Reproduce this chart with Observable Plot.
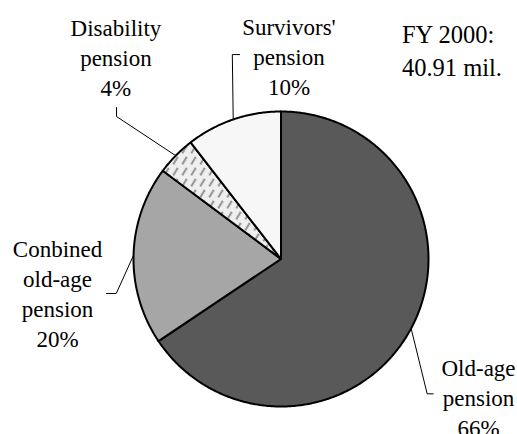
<!DOCTYPE html>
<html><head><meta charset="utf-8">
<script src="https://cdn.jsdelivr.net/npm/d3@7"></script>
<script src="https://cdn.jsdelivr.net/npm/@observablehq/plot@0.6"></script>
<style>
body{margin:0;background:#fff}
#chart{width:517px;height:434px}
</style>
</head><body><div id="chart"></div>
<script>
// ---- data ----
const categories = ["Old-age pension", "Conbined old-age pension", "Disability pension", "Survivors' pension"];
const labelTexts = ["Old-age\npension", "Conbined\nold-age\npension", "Disability\npension", "Survivors'\npension"];
const shares = [65.6, 19.6, 4.3, 10.5];
const pctLabels = ["66%", "20%", "4%", "10%"];
const totalLines = ["FY 2000:", "40.91 mil."];

// ---- styles / layout ----
const fills = ["#595959", "#a6a6a6", "url(#disPattern)", "#f7f7f7"];
// label block centres (pie-radius units)
const labelPos = [[1.339, -0.932], [-1.515, -0.226], [-1.119, 1.374], [0.054, 1.379]];
// leader: label end, elbow (pie-radius units); third point is slice mid-angle on the rim
const leaderEnds = [[1.032, -0.914], [-1.183, -0.234], [-1.115, 1.027], [-0.281, 1.386]];
const leaderElbows = [[0.991, -0.914], [-1.117, -0.234], [-1.115, 0.966], [-0.33, 1.386]];

const arcs = d3.pie().sort(null).value(d => d)(shares);
const slicePts = arcs.map((a, i) => {
  const pts = [{x: 0, y: 0, i}];
  const n = Math.max(2, Math.ceil((a.endAngle - a.startAngle) / (Math.PI / 360)));
  for (let k = 0; k <= n; k++) {
    const t = a.startAngle + (a.endAngle - a.startAngle) * k / n;
    pts.push({x: Math.sin(t), y: Math.cos(t), i});
  }
  pts.push({x: 0, y: 0, i});
  return pts;
});

const leaders = arcs.flatMap((a, i) => {
  const m = (a.startAngle + a.endAngle) / 2;
  return [
    {x: leaderEnds[i][0], y: leaderEnds[i][1], id: i},
    {x: leaderElbows[i][0], y: leaderElbows[i][1], id: i},
    {x: Math.sin(m), y: Math.cos(m), id: i}
  ];
});

const labels = categories.map((c, i) => ({
  x: labelPos[i][0], y: labelPos[i][1], text: labelTexts[i] + "\n" + pctLabels[i]
}));

const font = "Liberation Serif";

const svg = Plot.plot({
  width: 517, height: 434,
  marginLeft: 133, marginRight: 89, marginTop: 111, marginBottom: 28,
  x: {domain: [-1, 1], axis: null},
  y: {domain: [-1, 1], axis: null},
  style: {background: "white", overflow: "visible"},
  marks: [
    Plot.line(leaders, {x: "x", y: "y", z: "id", stroke: "black", strokeWidth: 1}),
    ...slicePts.map((pts, i) => Plot.line(pts, {
      x: "x", y: "y", fill: fills[i], stroke: "black", strokeWidth: 2, strokeLinejoin: "round"
    })),
    Plot.text(labels, {x: "x", y: "y", text: "text", fontSize: 23, lineHeight: 1.304,
      fontFamily: font, fill: "black"}),
    Plot.text([totalLines.join("\n")], {x: () => 0.82, y: () => 1.424, text: d => d, fontSize: 24.5,
      lineHeight: 1.335, textAnchor: "start", fontFamily: font, fill: "black"})
  ]
});

const ns = "http://www.w3.org/2000/svg";
const defs = document.createElementNS(ns, "defs");
defs.innerHTML = `<pattern id="disPattern" patternUnits="userSpaceOnUse" width="9" height="11">
  <rect width="9" height="11" fill="#efefef"/>
  <line x1="2" y1="9.5" x2="6.5" y2="2" stroke="#2e2e2e" stroke-width="1.6" stroke-dasharray="1.3 0.9"/>
</pattern>`;
svg.insertBefore(defs, svg.firstChild);
svg.setAttribute("font-family", font);
svg.querySelectorAll("text, tspan").forEach(t => {
  t.setAttribute("font-family", font);
  t.style.fontFamily = "'Liberation Serif', serif";
});
document.getElementById("chart").appendChild(svg);
</script>
</body></html>
